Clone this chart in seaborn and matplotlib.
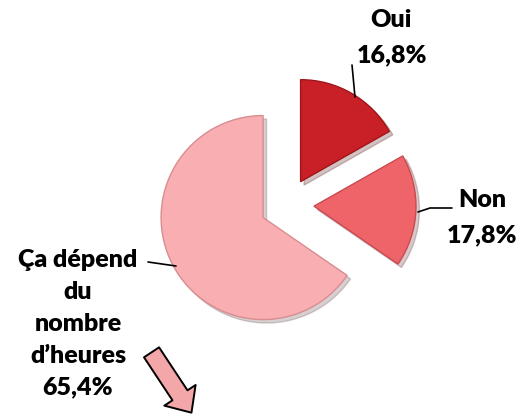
import matplotlib.pyplot as plt
import seaborn as sns
from matplotlib.patches import FancyArrowPatch

# === Data ===
labels = ["Oui", "Non", "Ça dépend\ndu\nnombre\nd’heures"]
values = [16.8, 17.8, 65.4]
pct_labels = ["16,8%", "17,8%", "65,4%"]
colors = ["#C91F26", "#EF6469", "#F9AFB2"]
edge_colors = ["#9E161B", "#C94A4F", "#D98C90"]

W, H = 530, 419

sns.set_theme(style="white")
plt.rcParams['font.family'] = ['Lato', 'DejaVu Sans']

fig = plt.figure(figsize=(W / 100, H / 100), dpi=100)
ax = fig.add_axes([0, 0, 1, 1])

# pie in pixel-like coordinates (y up); explode is in data units here
cx, cy, R = 287, H - 205, 102
wedges, _ = ax.pie(values, colors=colors, startangle=90, counterclock=False,
                   explode=[27, 27, 27], center=(cx, cy), radius=R,
                   wedgeprops=dict(linewidth=1.0),
                   shadow=dict(ox=2.5, oy=-2.5, alpha=0.25, shade=0.6))
for w, ec in zip(wedges, edge_colors):
    w.set_edgecolor(ec)

ax.set_xlim(0, W)
ax.set_ylim(0, H)
ax.set_aspect('equal')
ax.axis('off')

txt = dict(fontsize=18, fontweight='heavy', color='black', ha='center', va='center')

# --- Oui ---
ax.text(391, H - 20, labels[0], **txt)
ax.text(392, H - 55, pct_labels[0], **txt)
ax.plot([352, 355], [H - 65, H - 97], color='black', lw=1.2)

# --- Non ---
ax.text(482, H - 200, labels[1], **txt)
ax.text(482, H - 235, pct_labels[1], **txt)
ax.plot([418, 430, 452], [H - 212, H - 208, H - 208], color='black', lw=1.2)

# --- Ça dépend ---
ax.text(78, H - 324, labels[2] + "\n" + pct_labels[2], linespacing=1.55, **txt)
ax.plot([148, 176], [H - 262, H - 266], color='black', lw=1.2)

# decorative arrow
arrow = FancyArrowPatch((150, H - 350), (193, H - 415),
                        arrowstyle='simple,head_length=15,head_width=27,tail_width=13',
                        fc='#F4A7A9', ec='black', lw=1.4, mutation_scale=1)
ax.add_patch(arrow)

fig.savefig('out.png', dpi=100)
